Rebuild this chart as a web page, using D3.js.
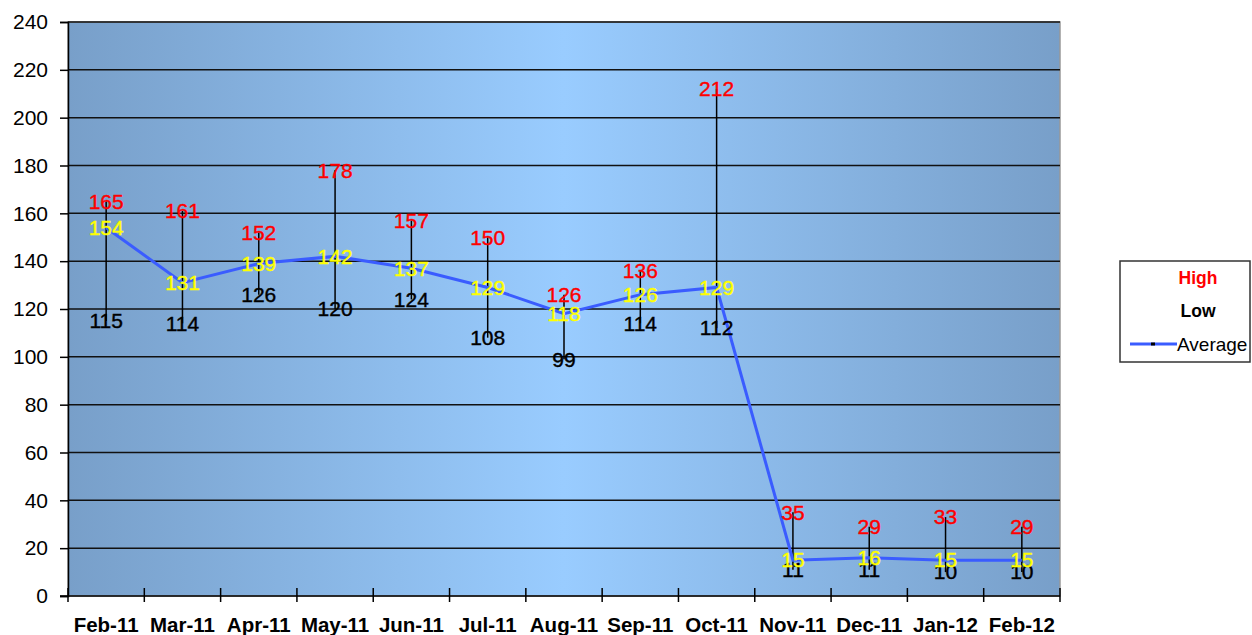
<!DOCTYPE html>
<html>
<head>
<meta charset="utf-8">
<script src="https://cdn.jsdelivr.net/npm/d3@7"></script>
<style>
  body { margin: 0; background: #fff; }
  svg { display: block; font-family: "Liberation Sans", Arial, sans-serif; }
</style>
</head>
<body>
<svg id="chart" width="1252" height="635"></svg>
<script>
const months = ['Feb-11', 'Mar-11', 'Apr-11', 'May-11', 'Jun-11', 'Jul-11', 'Aug-11',
  'Sep-11', 'Oct-11', 'Nov-11', 'Dec-11', 'Jan-12', 'Feb-12'];
const highs = [165, 161, 152, 178, 157, 150, 126, 136, 212, 35, 29, 33, 29];
const lows = [115, 114, 126, 120, 124, 108, 99, 114, 112, 11, 11, 10, 10];
const averages = [154, 131, 139, 142, 137, 129, 118, 126, 129, 15, 16, 15, 15];
const yTicks = d3.range(0, 241, 20);

const svg = d3.select('#chart');
const plot = { left: 68, right: 1060, top: 22, bottom: 596 };

const x = d3.scaleBand().domain(months).range([plot.left, plot.right]);
const y = d3.scaleLinear().domain([0, 240]).range([plot.bottom, plot.top]);

// background gradient
const grad = svg.append('defs').append('linearGradient')
  .attr('id', 'bg').attr('x1', '0%').attr('x2', '100%').attr('y1', '0%').attr('y2', '0%');
grad.append('stop').attr('offset', '0%').attr('stop-color', '#789fc9');
grad.append('stop').attr('offset', '50%').attr('stop-color', '#99ccff');
grad.append('stop').attr('offset', '100%').attr('stop-color', '#789fc9');

svg.append('rect')
  .attr('x', plot.left).attr('y', plot.top)
  .attr('width', plot.right - plot.left).attr('height', plot.bottom - plot.top)
  .attr('fill', 'url(#bg)')
  .attr('stroke', '#999').attr('stroke-width', 1.5);

// gridlines
svg.append('g').selectAll('line')
  .data(yTicks.filter(d => d > 0))
  .join('line')
  .attr('x1', plot.left).attr('x2', plot.right)
  .attr('y1', d => y(d)).attr('y2', d => y(d))
  .attr('stroke', '#111').attr('stroke-width', 1.5);

// y axis
const yAxis = svg.append('g')
  .attr('transform', `translate(${plot.left},0)`)
  .call(d3.axisLeft(y).tickValues(yTicks).tickSize(8).tickPadding(12));
yAxis.select('.domain').attr('stroke', '#000').attr('stroke-width', 1.5);
yAxis.selectAll('.tick line').attr('stroke', '#000').attr('stroke-width', 1.5);
yAxis.selectAll('.tick text')
  .attr('font-size', 21).attr('fill', '#000')
  .attr('font-family', '"Liberation Sans", Arial, sans-serif');

// x axis line and boundary ticks
const xg = svg.append('g');
xg.append('line')
  .attr('x1', plot.left - 8).attr('x2', plot.right)
  .attr('y1', plot.bottom).attr('y2', plot.bottom)
  .attr('stroke', '#000').attr('stroke-width', 1.5);
const boundaries = months.map(m => x(m)).concat([plot.right]);
xg.selectAll('.xt').data(boundaries).join('line')
  .attr('class', 'xt')
  .attr('x1', d => d).attr('x2', d => d)
  .attr('y1', plot.bottom - 8).attr('y2', plot.bottom + 6)
  .attr('stroke', '#000').attr('stroke-width', 1.5);
xg.selectAll('text').data(months).join('text')
  .attr('x', d => x(d) + x.bandwidth() / 2)
  .attr('y', 632)
  .attr('text-anchor', 'middle')
  .attr('font-size', 20.5).attr('font-weight', 'bold')
  .text(d => d);

const cx = i => x(months[i]) + x.bandwidth() / 2;

// high-low lines
svg.append('g').selectAll('line')
  .data(months)
  .join('line')
  .attr('x1', (d, i) => cx(i)).attr('x2', (d, i) => cx(i))
  .attr('y1', (d, i) => y(highs[i])).attr('y2', (d, i) => y(lows[i]))
  .attr('stroke', '#000').attr('stroke-width', 1.5);

// average line
svg.append('path')
  .datum(averages)
  .attr('fill', 'none')
  .attr('stroke', '#3a5cff')
  .attr('stroke-width', 3)
  .attr('d', d3.line().x((d, i) => cx(i)).y(d => y(d)));

// labels
function addLabels(values, color) {
  svg.append('g').selectAll('text')
    .data(values)
    .join('text')
    .attr('x', (d, i) => cx(i))
    .attr('y', d => y(d))
    .attr('dy', '0.35em')
    .attr('text-anchor', 'middle')
    .attr('font-size', 21)
    .attr('fill', color)
    .attr('stroke', color).attr('stroke-width', 0.4)
    .text(d => d);
}
addLabels(lows, '#000');
addLabels(highs, '#ff0000');
addLabels(averages, '#ffff00');

// legend
const lg = svg.append('g').attr('transform', 'translate(1120,261)');
lg.append('rect')
  .attr('width', 130).attr('height', 101)
  .attr('fill', '#fff').attr('stroke', '#333').attr('stroke-width', 1.5);
lg.append('text').attr('x', 78).attr('y', 23).attr('text-anchor', 'middle')
  .attr('font-size', 17.5).attr('font-weight', 'bold').attr('fill', '#ff0000').text('High');
lg.append('text').attr('x', 78).attr('y', 56).attr('text-anchor', 'middle')
  .attr('font-size', 17.5).attr('font-weight', 'bold').attr('fill', '#000').text('Low');
lg.append('line').attr('x1', 10).attr('x2', 57).attr('y1', 83).attr('y2', 83)
  .attr('stroke', '#3a5cff').attr('stroke-width', 3);
lg.append('rect').attr('x', 31).attr('y', 81.5).attr('width', 4).attr('height', 3).attr('fill', '#000');
lg.append('text').attr('x', 57).attr('y', 89.5)
  .attr('font-size', 19).attr('fill', '#000').text('Average');
</script>
</body>
</html>
